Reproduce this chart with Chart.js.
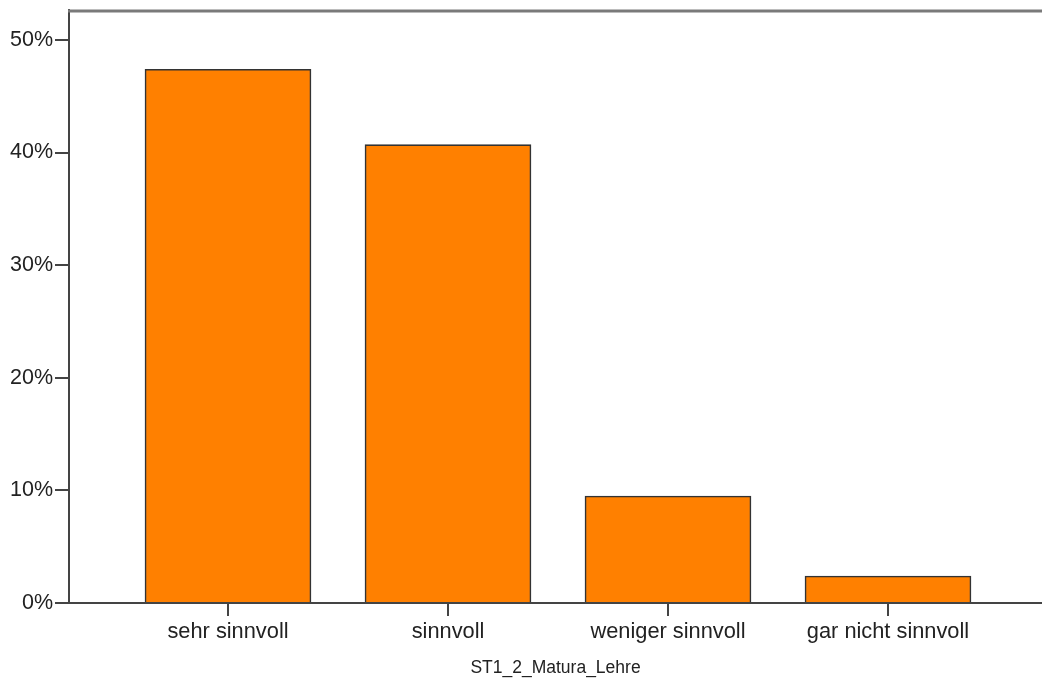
<!DOCTYPE html>
<html>
<head>
<meta charset="utf-8">
<script src="https://cdn.jsdelivr.net/npm/chart.js@4"></script>
<style>
html,body{margin:0;padding:0;background:#fff;}
#wrap{width:1042px;height:679px;position:relative;}
</style>
</head>
<body>
<div id="wrap"><canvas id="c" width="1042" height="679"></canvas></div>
<script>
const categories = ["sehr sinnvoll", "sinnvoll", "weniger sinnvoll", "gar nicht sinnvoll"];
const percentValues = [47.4, 40.7, 9.5, 2.4];
const yTickValues = [0, 10, 20, 30, 40, 50];
const axisTitle = "ST1_2_Matura_Lehre";

const points = categories.map((c, i) => ({x: i, y: percentValues[i]}));

const topBorder = {
  id: 'topBorder',
  afterDraw(chart) {
    const a = chart.chartArea, ctx = chart.ctx;
    ctx.save();
    ctx.strokeStyle = '#7a7a7a';
    ctx.lineWidth = 3;
    ctx.beginPath();
    ctx.moveTo(a.left - 1, a.top + 1);
    ctx.lineTo(chart.width, a.top + 1);
    ctx.stroke();
    ctx.restore();
  }
};

new Chart(document.getElementById('c'), {
  type: 'bar',
  data: {
    datasets: [{
      data: points,
      backgroundColor: '#ff8000',
      borderColor: '#333333',
      borderWidth: 1.6,
      borderSkipped: 'bottom',
      barThickness: 166
    }]
  },
  plugins: [topBorder],
  options: {
    responsive: false,
    animation: false,
    layout: {padding: {top: 10, right: 0, left: 0, bottom: 0}},
    plugins: {legend: {display: false}, tooltip: {enabled: false}},
    scales: {
      x: {
        type: 'linear',
        offset: false,
        min: -0.7227,
        max: 3.7,
        afterBuildTicks(s) { s.ticks = categories.map((c, i) => ({value: i})); },
        afterFit(s) { s.height = 76; s.paddingLeft = 0; s.paddingRight = 0; },
        grid: {display: true, offset: false, drawOnChartArea: false, drawTicks: true, tickLength: 13, color: '#444', lineWidth: 2},
        border: {display: true, color: '#444', width: 2},
        ticks: {
          autoSkip: false,
          maxRotation: 0,
          padding: 3,
          color: '#222',
          font: {family: '"Liberation Sans", Arial, sans-serif', size: 21.8},
          callback: (v) => categories[v]
        },
        title: {
          display: true,
          text: axisTitle,
          color: '#222',
          font: {family: '"Liberation Sans", Arial, sans-serif', size: 17.5},
          padding: {top: 8, bottom: 0}
        }
      },
      y: {
        min: 0,
        max: 52.66,
        afterBuildTicks(s) { s.ticks = yTickValues.map(v => ({value: v})); },
        afterFit(s) { s.width = 69; s.paddingTop = 0; s.paddingBottom = 0; },
        grid: {display: true, drawOnChartArea: false, drawTicks: true, tickLength: 14, color: '#444', lineWidth: 2},
        border: {display: true, color: '#444', width: 2},
        ticks: {
          padding: 2,
          color: '#222',
          font: {family: '"Liberation Sans", Arial, sans-serif', size: 21.5},
          callback: (v) => v + '%'
        }
      }
    }
  }
});
</script>
</body>
</html>
